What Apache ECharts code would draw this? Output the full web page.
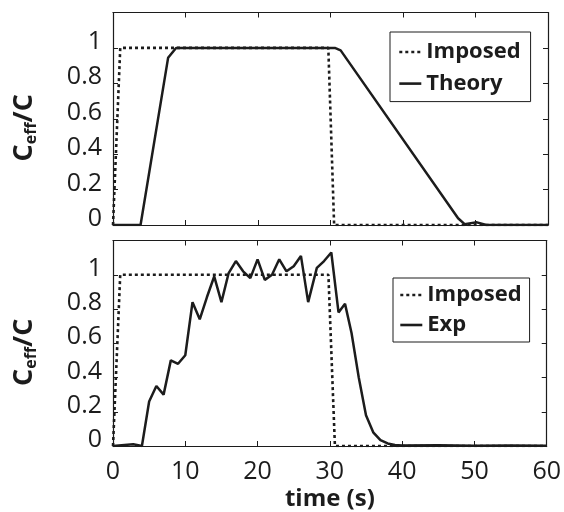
<!DOCTYPE html>
<html>
<head>
<meta charset="utf-8">
<script src="https://cdn.jsdelivr.net/npm/echarts@6/dist/echarts.min.js"></script>
<style>
  html, body { margin: 0; padding: 0; background: #fff; }
  #chart { width: 564px; height: 512px; }
</style>
</head>
<body>
<div id="chart"></div>
<script>
// Imposed concentration step (time in s, normalised value)
const imposedTopT = [0, 1.0, 29.7, 30.5, 60];
const imposedTopV = [0, 1.0, 1.0, 0, 0];
const imposedBotT = [0, 1.0, 29.8, 30.7, 60];
const imposedBotV = [0, 1.0, 1.0, 0, 0];

// Theoretical response
const theoryT = [0, 3.8, 7.6, 8.7, 30.6, 31.4, 47.6, 48.5, 50.2, 51.5, 60];
const theoryV = [0, 0, 0.944, 1.0, 1.0, 0.986, 0.038, 0.005, 0.015, 0, 0];

// Experimental response
const expT = [0, 2.8, 4, 5, 6, 7, 8, 9, 10, 11, 12, 13, 14, 15, 16, 17, 18, 19, 20, 21, 22, 23, 24, 25, 26, 27, 28.2, 29.2, 30.2, 31.2, 32.1, 33, 34, 35, 36, 37, 38, 39, 40, 45, 50, 55, 60];
const expV = [0, 0.01, 0, 0.26, 0.35, 0.30, 0.50, 0.48, 0.53, 0.84, 0.74, 0.87, 0.99, 0.84, 1.01, 1.08, 1.02, 0.98, 1.09, 0.97, 1.00, 1.09, 1.02, 1.05, 1.11, 0.84, 1.04, 1.08, 1.13, 0.78, 0.83, 0.66, 0.40, 0.18, 0.08, 0.034, 0.015, 0.006, 0.003, 0.004, 0.002, 0.003, 0.002];

const xTicks = [0, 10, 20, 30, 40, 50, 60];
const yTicks = [0, 0.2, 0.4, 0.6, 0.8, 1];

const zip = (t, v) => t.map((x, i) => [x, v[i]]);

const INK = '#1c1c1c';
const FONT = 'Open Sans';

const grids = [
  { left: 113, right: 16, top: 12.5, height: 212.5 },
  { left: 113, right: 16, top: 240.5, height: 212.5 }
];

function xAxes(gi, showLabels) {
  return [
    {
      type: 'value', gridIndex: gi, min: 0, max: 60, interval: 10,
      axisLine: { show: true, onZero: false, lineStyle: { color: INK, width: 1.2 } },
      axisTick: { show: true, inside: true, length: 5, lineStyle: { color: INK } },
      axisLabel: {
        show: showLabels, fontSize: 25, color: INK, fontFamily: FONT, margin: 13,
        formatter: v => (xTicks.includes(v) ? String(v) : '')
      },
      splitLine: { show: false },
      name: showLabels ? 'time (s)' : '',
      nameLocation: 'middle', nameGap: 41,
      nameTextStyle: { fontSize: 24, fontWeight: 'bold', color: INK, fontFamily: FONT, verticalAlign: 'top' }
    },
    {
      type: 'value', gridIndex: gi, min: 0, max: 60, interval: 10, position: 'top',
      axisLine: { show: true, onZero: false, lineStyle: { color: INK, width: 1.2 } },
      axisTick: { show: true, inside: true, length: 5, lineStyle: { color: INK } },
      axisLabel: { show: false }, splitLine: { show: false }
    }
  ];
}

function yAxes(gi) {
  return [
    {
      type: 'value', gridIndex: gi, min: 0, max: 1.2, interval: 0.2,
      axisLine: { show: true, onZero: false, lineStyle: { color: INK, width: 1.2 } },
      axisTick: { show: true, inside: true, length: 5, lineStyle: { color: INK } },
      axisLabel: {
        fontSize: 25, color: INK, fontFamily: FONT, margin: 11,
        verticalAlign: 'bottom', lineHeight: 12,
        formatter: v => (yTicks.some(t => Math.abs(t - v) < 1e-6) ? String(+v.toFixed(1)) : '')
      },
      splitLine: { show: false },
      name: '{a|C}{b|eff}{a|/C}',
      nameLocation: 'middle', nameGap: 74, nameRotate: 90,
      nameTextStyle: {
        color: INK, fontFamily: FONT, padding: [0, 18, 0, 0],
        rich: {
          a: { fontSize: 27, fontWeight: 'bold', color: INK, fontFamily: FONT },
          b: { fontSize: 16, fontWeight: 'bold', color: INK, fontFamily: FONT, padding: [13, 0, 0, 0] }
        }
      }
    },
    {
      type: 'value', gridIndex: gi, min: 0, max: 1.2, interval: 0.2, position: 'right',
      axisLine: { show: true, onZero: false, lineStyle: { color: INK, width: 1.2 } },
      axisTick: { show: true, inside: true, length: 5, lineStyle: { color: INK } },
      axisLabel: { show: false }, splitLine: { show: false }
    }
  ];
}

const dotted = { color: INK, width: 2.6, type: [3, 3] };
const solid = { color: INK, width: 2.5 };

const legendBase = {
  orient: 'vertical',
  borderColor: INK, borderWidth: 1, backgroundColor: '#fff',
  itemWidth: 22, itemHeight: 14,
  itemStyle: { opacity: 0 },
  lineStyle: { width: 2.6 },
  selectedMode: false
};

const option = {
  animation: false,
  backgroundColor: '#fff',
  grid: grids,
  xAxis: [...xAxes(0, false), ...xAxes(1, true)],
  yAxis: [...yAxes(0), ...yAxes(1)],
  legend: [
    Object.assign({}, legendBase, {
      data: ['Imposed', 'Theory'], left: 390, top: 32, padding: [7, 10, 5, 8], itemGap: 5.6,
      itemIconTextGap: 5,
      textStyle: { fontSize: 22, fontWeight: 'bold', color: INK, fontFamily: FONT, lineHeight: 26 }
    }),
    Object.assign({}, legendBase, {
      data: ['Imposed', 'Exp'], left: 393, top: 278, padding: [4, 8, 4, 6], itemGap: 4,
      itemIconTextGap: 8,
      textStyle: { fontSize: 22, fontWeight: 'bold', color: INK, fontFamily: FONT, lineHeight: 26 }
    })
  ],
  series: [
    { name: 'Imposed', type: 'line', xAxisIndex: 0, yAxisIndex: 0, data: zip(imposedTopT, imposedTopV), symbol: 'none', lineStyle: dotted, itemStyle: { color: INK } },
    { name: 'Theory', type: 'line', xAxisIndex: 0, yAxisIndex: 0, data: zip(theoryT, theoryV), symbol: 'none', lineStyle: solid, itemStyle: { color: INK } },
    { name: 'Imposed', type: 'line', xAxisIndex: 2, yAxisIndex: 2, data: zip(imposedBotT, imposedBotV), symbol: 'none', lineStyle: dotted, itemStyle: { color: INK } },
    { name: 'Exp', type: 'line', xAxisIndex: 2, yAxisIndex: 2, data: zip(expT, expV), symbol: 'none', lineStyle: solid, itemStyle: { color: INK } }
  ]
};

echarts.init(document.getElementById('chart'), null, { renderer: 'canvas' }).setOption(option);
</script>
</body>
</html>
